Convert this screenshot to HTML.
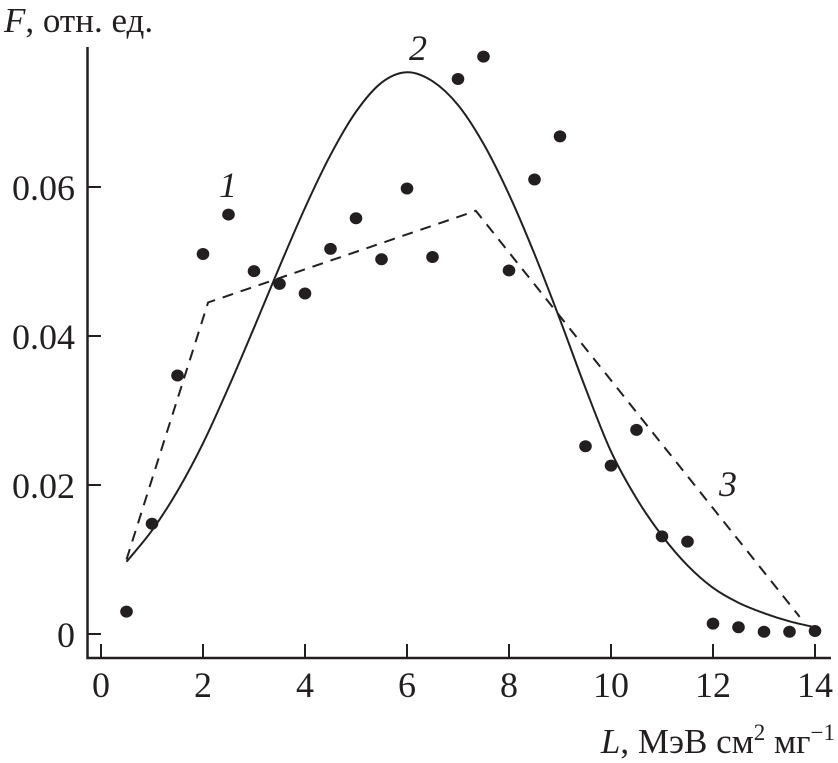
<!DOCTYPE html>
<html><head><meta charset="utf-8"><style>
html,body{margin:0;padding:0;background:#fff}
svg{display:block}
text{font-family:"Liberation Serif",serif;fill:#231f20}
</style></head><body>
<svg id="chart" width="838" height="763" viewBox="0 0 838 763">
<g id="axes"></g>
<g id="marks"></g>
<text x="4" y="32" font-size="35"><tspan font-style="italic">F</tspan>, отн. ед.</text>
<text x="835" y="753" font-size="35" text-anchor="end"><tspan font-style="italic">L</tspan>, МэВ см<tspan font-size="23" dy="-13">2</tspan><tspan dy="13"> мг</tspan><tspan font-size="23" dy="-13">−1</tspan></text>
<text x="219" y="197" font-size="36" font-style="italic">1</text>
<text x="409" y="60" font-size="36" font-style="italic">2</text>
<text x="719" y="496" font-size="36" font-style="italic">3</text>
</svg>
<script>
const pointX=[0.5,1,1.5,2,2.5,3,3.5,4,4.5,5,5.5,6,6.5,7,7.5,8,8.5,9,9.5,10,10.5,11,11.5,12,12.5,13,13.5,14];
const pointY=[0.003,0.0148,0.0347,0.051,0.0563,0.0487,0.047,0.0457,0.0517,0.0558,0.0503,0.0598,0.0506,0.0745,0.0775,0.0488,0.061,0.0668,0.0252,0.0226,0.0274,0.0131,0.0124,0.0014,0.0009,0.0003,0.0003,0.0004];
const curveX=[0.5,1,1.5,2,2.5,3,3.5,4,4.5,5,5.5,6,6.5,7,7.5,8,8.5,9,9.5,10,10.5,11,11.5,12,12.5,13,13.5,14];
const curveY=[0.0097,0.0139,0.0192,0.0256,0.0331,0.0411,0.0493,0.0572,0.0643,0.0701,0.0740,0.0754,0.0742,0.0710,0.0658,0.0590,0.0510,0.0422,0.0330,0.0245,0.0182,0.0132,0.0092,0.0062,0.0042,0.0028,0.0017,0.0009];
const dashX=[0.5,2.1,7.35,13.7];
const dashY=[0.0100,0.0445,0.0568,0.0023];
const xTicks=[0,2,4,6,8,10,12,14];
const yTicks=[0,0.02,0.04,0.06];
const yTickLabels=["0","0.02","0.04","0.06"];

const NS="http://www.w3.org/2000/svg";
function sx(v){return 101+v*51;}
function sy(v){return 634-v*7450;}
function mk(tag,attrs,parent){const e=document.createElementNS(NS,tag);for(const k in attrs)e.setAttribute(k,attrs[k]);parent.appendChild(e);return e;}
const axes=document.getElementById('axes');
const marks=document.getElementById('marks');
let a=mk('path',{d:'M87.5 47 V658 H831',fill:'none',stroke:'#231f20','stroke-width':2.5},axes);


xTicks.forEach(t=>{
  const l=mk('line',{x1:sx(t),x2:sx(t),y1:644,y2:658,stroke:'#231f20','stroke-width':2},axes);
  
  
  const tx=mk('text',{x:sx(t),y:697,'font-size':36,'text-anchor':'middle'},axes);
  tx.textContent=String(t);
  
  
});
yTicks.forEach((t,i)=>{
  const l=mk('line',{x1:87,x2:101,y1:sy(t),y2:sy(t),stroke:'#231f20','stroke-width':2},axes);
  
  
  const tx=mk('text',{x:75,y:sy(t)+13,'font-size':36,'text-anchor':'end'},axes);
  tx.textContent=yTickLabels[i];
  
  
});
const P=curveX.map((x,i)=>[sx(x),sy(curveY[i])]);
let d='M'+P[0][0]+' '+P[0][1];
for(let i=0;i<P.length-1;i++){
  const p0=P[Math.max(0,i-1)],p1=P[i],p2=P[i+1],p3=P[Math.min(P.length-1,i+2)];
  const c1=[p1[0]+(p2[0]-p0[0])/6,p1[1]+(p2[1]-p0[1])/6];
  const c2=[p2[0]-(p3[0]-p1[0])/6,p2[1]-(p3[1]-p1[1])/6];
  d+=` C${c1[0]} ${c1[1]} ${c2[0]} ${c2[1]} ${p2[0]} ${p2[1]}`;
}
const c=mk('path',{d:d,fill:'none',stroke:'#231f20','stroke-width':2},marks);


const dl=mk('polyline',{points:dashX.map((x,i)=>sx(x)+','+sy(dashY[i])).join(' '),fill:'none',stroke:'#231f20','stroke-width':2,'stroke-dasharray':'11 8'},marks);


pointX.forEach((x,i)=>{
  const e=mk('ellipse',{cx:sx(x),cy:sy(pointY[i]),rx:6.3,ry:6,fill:'#231f20'},marks);
  
  
});
</script>
</body></html>
